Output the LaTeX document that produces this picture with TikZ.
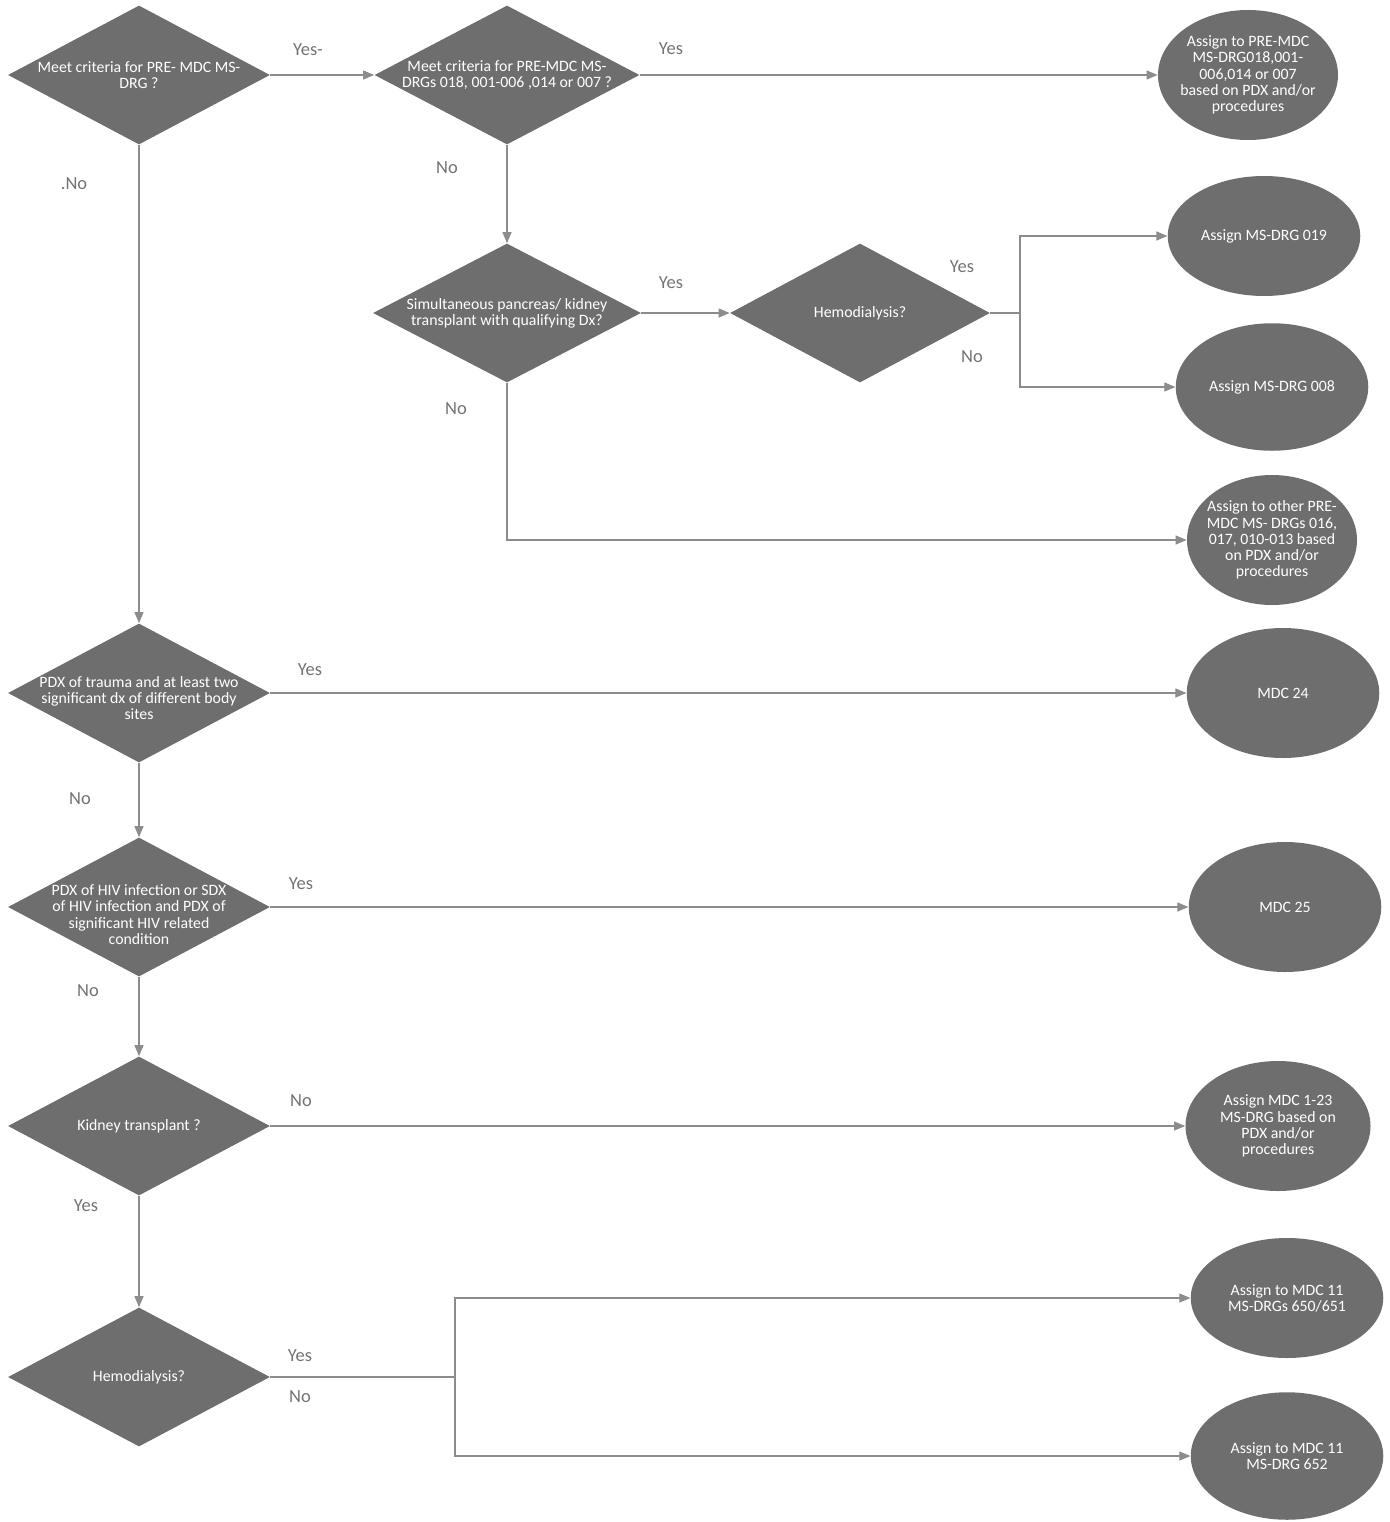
\documentclass[tikz,border=0pt]{standalone}
\usepackage{fontspec}
\setmainfont{Carlito}
\usetikzlibrary{shapes.geometric,arrows.meta}
\definecolor{boxgray}{RGB}{110,110,110}
\definecolor{linegray}{RGB}{140,140,140}
\definecolor{labelgray}{RGB}{115,115,115}
\tikzset{
  /tikz/.cd,
  decision/.style={diamond,fill=boxgray,inner sep=0pt,minimum width=5.24cm,minimum height=2.78cm},
  outcome/.style={ellipse,fill=boxgray,inner sep=0pt,minimum width=3.85cm,minimum height=2.6cm},
  boxtext/.style={text=white,align=center,font=\fontsize{9}{9.2}\selectfont}
}

\begin{document}
\begin{tikzpicture}[x=0.2mm,y=-0.2mm,
                    flow/.style={draw=linegray,line width=0.6pt,-{Triangle[length=2.2mm,width=1.8mm]}},
                    answer/.style={text=labelgray,font=\fontsize{10.5}{12}\selectfont}]
  \useasboundingbox (0,0) rectangle (1389,1522);

  \node[decision] (premdc) at (139,75) {};
  \node[decision,minimum width=5.3cm] (premdcdrg) at (507,75) {};
  \node[decision,minimum width=5.36cm] (pancreas) at (507,313) {};
  \node[decision,minimum width=5.2cm] (hemoa) at (860,313) {};
  \node[decision] (trauma) at (139,693) {};
  \node[decision] (hiv) at (139,907) {};
  \node[decision] (kidney) at (139,1126) {};
  \node[decision] (hemob) at (139,1377) {};

  \node[outcome,minimum width=3.6cm] (assignpre) at (1248,75) {};
  \node[outcome,minimum height=2.4cm] (drg19) at (1264,236) {};
  \node[outcome,minimum height=2.55cm] (drg8) at (1272,387) {};
  \node[outcome,minimum width=3.4cm] (otherpre) at (1272,540) {};
  \node[outcome] (mdc24) at (1283,693) {};
  \node[outcome] (mdc25) at (1285,907) {};
  \node[outcome,minimum width=3.7cm] (mdcrest) at (1278,1126) {};
  \node[outcome,minimum height=2.4cm] (drg650) at (1287,1298) {};
  \node[outcome,minimum height=2.55cm] (drg652) at (1287,1456) {};

  \node[boxtext] (premdctext) at (premdc) {Meet criteria for PRE- MDC MS-\\DRG ?};
  \node[boxtext] (premdcdrgtext) at (premdcdrg) {Meet criteria for PRE-MDC MS-\\DRGs 018, 001-006 ,014 or 007 ?};
  \node[boxtext] (pancreastext) at (pancreas) {Simultaneous pancreas/ kidney\\transplant with qualifying Dx?};
  \node[boxtext] (hemoatext) at (hemoa) {Hemodialysis?};
  \node[boxtext] (traumatext) at ([yshift=-1mm]trauma.center) {PDX of trauma and at least two\\significant dx of different body\\sites};
  \node[boxtext] (hivtext) at ([yshift=-1.5mm]hiv.center) {PDX of HIV infection or SDX\\of HIV infection and PDX of\\significant HIV related\\condition};
  \node[boxtext] (kidneytext) at (kidney) {Kidney transplant ?};
  \node[boxtext] (hemobtext) at (hemob) {Hemodialysis?};

  \node[boxtext] (assignpretext) at (assignpre) {Assign to PRE-MDC\\MS-DRG018,001-\\006,014 or 007\\based on PDX and/or\\procedures};
  \node[boxtext] (drg19text) at (drg19) {Assign MS-DRG 019};
  \node[boxtext] (drg8text) at (drg8) {Assign MS-DRG 008};
  \node[boxtext] (otherpretext) at (otherpre) {Assign to other PRE-\\MDC MS- DRGs 016,\\017, 010-013 based\\on PDX and/or\\procedures};
  \node[boxtext] (mdc24text) at (mdc24) {MDC 24};
  \node[boxtext] (mdc25text) at (mdc25) {MDC 25};
  \node[boxtext] (mdcresttext) at (mdcrest) {Assign MDC 1-23\\MS-DRG based on\\PDX and/or\\procedures};
  \node[boxtext] (drg650text) at (drg650) {Assign to MDC 11\\MS-DRGs 650/651};
  \node[boxtext] (drg652text) at (drg652) {Assign to MDC 11\\MS-DRG 652};

  \coordinate (hemoasplit) at (1020,313);
  \coordinate (hemobsplit) at (455,1377);

  \draw[flow] (premdc.east) -- (premdcdrg.west);
  \draw[flow] (premdcdrg.east) -- (assignpre.west);
  \draw[flow] (premdc.south) -- (trauma.north);
  \draw[flow] (premdcdrg.south) -- (pancreas.north);
  \draw[flow] (pancreas.east) -- (hemoa.west);
  \draw[draw=linegray,line width=0.6pt] (hemoa.east) -- (hemoasplit);
  \draw[flow] (hemoasplit) |- (drg19.west);
  \draw[flow] (hemoasplit) |- (drg8.west);
  \draw[flow] (pancreas.south) |- (otherpre.west);
  \draw[flow] (trauma.east) -- (mdc24.west);
  \draw[flow] (trauma.south) -- (hiv.north);
  \draw[flow] (hiv.east) -- (mdc25.west);
  \draw[flow] (hiv.south) -- (kidney.north);
  \draw[flow] (kidney.east) -- (mdcrest.west);
  \draw[flow] (kidney.south) -- (hemob.north);
  \draw[draw=linegray,line width=0.6pt] (hemob.east) -- (hemobsplit);
  \draw[flow] (hemobsplit) |- (drg650.west);
  \draw[flow] (hemobsplit) |- (drg652.west);

  \node[answer] (yesa) at (308,50) {Yes-};
  \node[answer] (yesb) at (671,49) {Yes};
  \node[answer] (noa) at (74,184) {.No};
  \node[answer] (nob) at (447,168) {No};
  \node[answer] (yesc) at (671,283) {Yes};
  \node[answer] (yesd) at (962,267) {Yes};
  \node[answer] (noc) at (972,357) {No};
  \node[answer] (nod) at (456,409) {No};
  \node[answer] (yese) at (310,670) {Yes};
  \node[answer] (noe) at (80,799) {No};
  \node[answer] (yesf) at (301,884) {Yes};
  \node[answer] (nof) at (88,991) {No};
  \node[answer] (nog) at (301,1101) {No};
  \node[answer] (yesg) at (86,1206) {Yes};
  \node[answer] (yesh) at (300,1356) {Yes};
  \node[answer] (noh) at (300,1397) {No};
\end{tikzpicture}
\end{document}
